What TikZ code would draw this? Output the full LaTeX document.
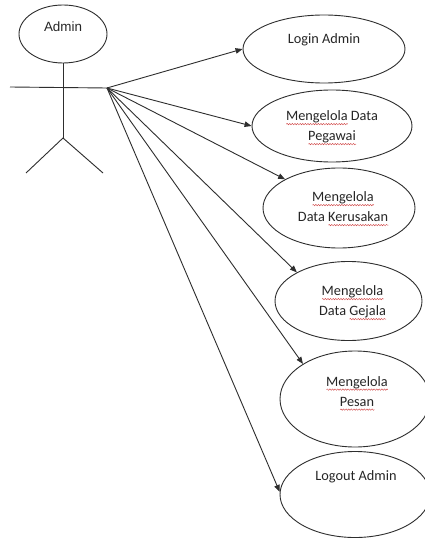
\documentclass[tikz,border=0pt]{standalone}
\usepackage{fontspec}
\setmainfont{Carlito}
\newfontfamily\headfont{Liberation Sans}
\usetikzlibrary{shapes.geometric,arrows.meta,decorations.pathmorphing}

% red wavy spell-check underline under a word
\newcommand\sqword[1]{\leavevmode\setbox0=\hbox{#1}%
  \rlap{\raisebox{-3.2pt}{\tikz[baseline=0pt]\draw[red!75!black!70,line width=0.45pt,
    decorate,decoration={snake,amplitude=0.7pt,segment length=2.6pt}] (0pt,0pt) -- (\wd0,0pt);}}%
  \box0\relax}

\begin{document}
\begin{tikzpicture}[x=1pt,y=-1pt,
  line/.style={draw=black!82,line width=0.9pt},
  usecase/.style={ellipse,line,inner sep=0pt},
  uctext/.style={align=center,inner sep=0pt,text=black!85,
    font=\fontsize{14.3}{20}\selectfont},
  arr/.style={line,-{Triangle[length=7pt,width=5.5pt]}}]
\useasboundingbox (0,0) rectangle (425,540);
\clip (0,0) rectangle (425,540);
\fill[white] (0,0) rectangle (425,540);

% actor
\node[usecase,minimum width=88,minimum height=58] (head) at (63,34) {};
\node[inner sep=0pt,text=black!85,font=\headfont\fontsize{13.4}{16}\selectfont] (adminlbl) at (63,27) {Admin};
\coordinate (neck) at (63,63);
\coordinate (hip) at (63,138);
\coordinate (lefthand) at (10,87);
\coordinate (hand) at (107,88);
\coordinate (leftfoot) at (26,173);
\coordinate (rightfoot) at (103,173);
\draw[line] (neck) -- (hip);
\draw[line] (lefthand) -- (hand);
\draw[line] (leftfoot) -- (hip) -- (rightfoot);

% use cases
\node[usecase,minimum width=162,minimum height=68] (login) at (324,49) {};
\node[usecase,minimum width=160,minimum height=72] (pegawai) at (332,126) {};
\node[usecase,minimum width=152,minimum height=80] (kerusakan) at (339,208) {};
\node[usecase,minimum width=147,minimum height=79] (gejala) at (348.5,301) {};
\node[usecase,minimum width=150,minimum height=96] (pesan) at (355,399) {};
\node[usecase,minimum width=150,minimum height=86] (logout) at (355,494.5) {};

% use case labels
\node[uctext] (t1) at (324,40) {Login Admin};
\node[uctext] (t2) at (332,128) {\sqword{Mengelola} Data\\\sqword{Pegawai}};
\node[uctext] (t3) at (343,209) {\sqword{Mengelola}\\Data \sqword{Kerusakan}};
\node[uctext] (t4) at (352.5,303) {\sqword{Mengelola}\\Data \sqword{Gejala}};
\node[uctext] (t5) at (357,393.5) {\sqword{Mengelola}\\\sqword{Pesan}};
\node[uctext] (t6) at (356,477) {Logout Admin};

% associations
\draw[arr] (hand) -- (login.west);
\draw[arr] (hand) -- (pegawai.west);
\draw[arr] (hand) -- (kerusakan.152);
\draw[arr] (hand) -- (gejala.151);
\draw[arr] (hand) -- (pesan.146);
\draw[arr] (hand) -- (logout.178);
\end{tikzpicture}
\end{document}
